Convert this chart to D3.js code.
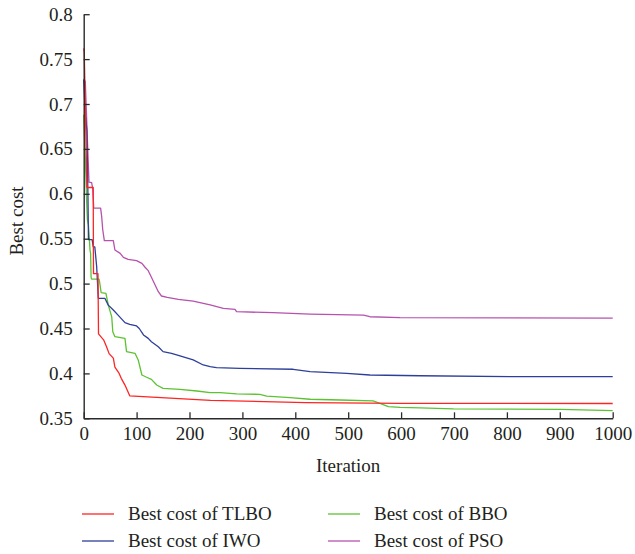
<!DOCTYPE html>
<html>
<head>
<meta charset="utf-8">
<script src="https://cdn.jsdelivr.net/npm/d3@7"></script>
<style>
  html, body { margin: 0; padding: 0; background: #fff; }
  svg { display: block; }
  text { font-family: "Liberation Serif", "Times New Roman", serif; fill: #231f20; }
</style>
</head>
<body>
<svg id="chart" width="635" height="554"></svg>
<script>
// ---- Data ----
const xTicks = [0, 100, 200, 300, 400, 500, 600, 700, 800, 900, 1000];
const yTicks = [0.35, 0.4, 0.45, 0.5, 0.55, 0.6, 0.65, 0.7, 0.75, 0.8];
const yTickLabels = ["0.35", "0.4", "0.45", "0.5", "0.55", "0.6", "0.65", "0.7", "0.75", "0.8"];

const tlboIter = [0, 1, 3, 5, 6, 18, 18.5, 27, 28, 38, 43, 48, 56, 59, 67, 71, 78, 87, 240, 420, 600, 1000];
const tlboCost = [0.762, 0.758, 0.70, 0.64, 0.607, 0.607, 0.511, 0.511, 0.444, 0.437, 0.430, 0.422, 0.417, 0.407, 0.400, 0.3945, 0.387, 0.375, 0.370, 0.3674, 0.3667, 0.3665];

const iwoIter = [0, 3, 6, 8, 9, 16, 18, 21, 24.5, 27.6, 40, 46.5, 56, 68, 78, 87, 100, 105, 113, 122, 128, 141, 150, 166, 182, 207, 226, 239, 251, 295, 396, 428, 497, 541, 636, 806, 1000];
const iwoCost = [0.727, 0.688, 0.671, 0.60, 0.549, 0.549, 0.541, 0.541, 0.519, 0.4836, 0.4836, 0.476, 0.4706, 0.463, 0.4565, 0.4547, 0.4528, 0.450, 0.4428, 0.439, 0.4353, 0.4297, 0.4242, 0.4224, 0.4194, 0.415, 0.4094, 0.4075, 0.4064, 0.4057, 0.4046, 0.4019, 0.4001, 0.3982, 0.3974, 0.3963, 0.3963];

const bboIter = [0, 3, 5.7, 7, 9, 10, 12, 13, 14, 15, 29, 30, 33, 42, 46.5, 53, 55, 59, 78, 81, 97, 103, 110, 119, 128, 138, 150, 182, 214, 239, 258, 289, 333, 346, 390, 428, 485, 547, 560, 576, 598, 636, 699, 901, 1000];
const bboCost = [0.688, 0.64, 0.589, 0.571, 0.565, 0.556, 0.537, 0.534, 0.507, 0.505, 0.505, 0.502, 0.490, 0.489, 0.476, 0.463, 0.4464, 0.4409, 0.439, 0.4242, 0.4224, 0.415, 0.3982, 0.3957, 0.3934, 0.3871, 0.3834, 0.3823, 0.3804, 0.3785, 0.3785, 0.3771, 0.3767, 0.3748, 0.373, 0.3712, 0.3704, 0.3693, 0.3667, 0.3629, 0.3622, 0.3615, 0.3604, 0.360, 0.3585];

const psoIter = [0, 3, 5, 7, 10, 15, 17, 19, 32, 34, 36, 39, 56, 59, 69, 75, 84, 100, 110, 116, 122, 128, 135, 141, 147, 158, 179, 207, 239, 264, 286, 289, 358, 428, 529, 541, 598, 1000];
const psoCost = [0.728, 0.725, 0.693, 0.66, 0.613, 0.6124, 0.606, 0.584, 0.584, 0.5745, 0.56, 0.5478, 0.5478, 0.5374, 0.5337, 0.5293, 0.527, 0.5255, 0.5226, 0.5182, 0.5144, 0.507, 0.4984, 0.491, 0.4862, 0.4847, 0.4825, 0.4806, 0.4762, 0.4725, 0.4714, 0.4687, 0.4676, 0.4661, 0.465, 0.4631, 0.462, 0.4615];

const seriesNames = ["Best cost of TLBO", "Best cost of IWO", "Best cost of BBO", "Best cost of PSO"];
const seriesColors = ["#ff2424", "#2e3f9a", "#5cc232", "#b652ad"];

// ---- Build ----
const series = [
  { name: seriesNames[0], color: seriesColors[0], x: tlboIter, y: tlboCost },
  { name: seriesNames[1], color: seriesColors[1], x: iwoIter, y: iwoCost },
  { name: seriesNames[2], color: seriesColors[2], x: bboIter, y: bboCost },
  { name: seriesNames[3], color: seriesColors[3], x: psoIter, y: psoCost }
];

const svg = d3.select("#chart");
const plotLeft = 83.7, plotRight = 612.7, plotTop = 14.2, plotBottom = 418.3;
const x = d3.scaleLinear().domain([0, 1000]).range([plotLeft, plotRight]);
const y = d3.scaleLinear().domain([0.35, 0.8]).range([plotBottom, plotTop]);

const FS = 19;

const line = d3.line().x(d => x(d[0])).y(d => y(d[1]));
const drawOrder = [3, 2, 1, 0];
drawOrder.forEach(i => {
  const s = series[i];
  svg.append("path")
    .datum(s.x.map((v, k) => [v, s.y[k]]))
    .attr("fill", "none")
    .attr("stroke", s.color)
    .attr("stroke-width", 1.3)
    .attr("stroke-linejoin", "round")
    .attr("d", line);
});

// Axes
const xAxis = d3.axisBottom(x).tickValues(xTicks).tickFormat(d3.format("d"))
  .tickSizeInner(-6).tickSizeOuter(0).tickPadding(8);
const yAxis = d3.axisLeft(y).tickValues(yTicks).tickFormat((d, i) => yTickLabels[i])
  .tickSizeInner(-6).tickSizeOuter(0).tickPadding(11);

const gx = svg.append("g").attr("transform", `translate(0,${plotBottom})`).call(xAxis);
const gy = svg.append("g").attr("transform", `translate(${plotLeft},0)`).call(yAxis);
[gx, gy].forEach(g => {
  g.selectAll("path.domain").attr("stroke", "#2a2a2a").attr("stroke-width", 1.4);
  g.selectAll(".tick line").attr("stroke", "#2a2a2a").attr("stroke-width", 1.3);
  g.selectAll(".tick text")
    .attr("font-family", "Liberation Serif, Times New Roman, serif")
    .attr("font-size", FS).attr("fill", "#231f20");
});

// Axis titles
svg.append("text")
  .attr("x", (plotLeft + plotRight) / 2).attr("y", 472)
  .attr("text-anchor", "middle").attr("font-size", FS)
  .text("Iteration");
svg.append("text")
  .attr("transform", `translate(23,221) rotate(-90)`)
  .attr("text-anchor", "middle").attr("font-size", FS)
  .text("Best cost");

// Legend
const legendPos = [
  { lx: 82, ly: 514 },
  { lx: 82, ly: 541 },
  { lx: 328, ly: 514 },
  { lx: 328, ly: 541 }
];
series.forEach((s, i) => {
  const p = legendPos[i];
  svg.append("line")
    .attr("x1", p.lx).attr("x2", p.lx + 32)
    .attr("y1", p.ly).attr("y2", p.ly)
    .attr("stroke", s.color).attr("stroke-width", 1.3);
  svg.append("text")
    .attr("x", p.lx + 46).attr("y", p.ly + 6)
    .attr("font-size", FS)
    .text(s.name);
});
</script>
</body>
</html>
